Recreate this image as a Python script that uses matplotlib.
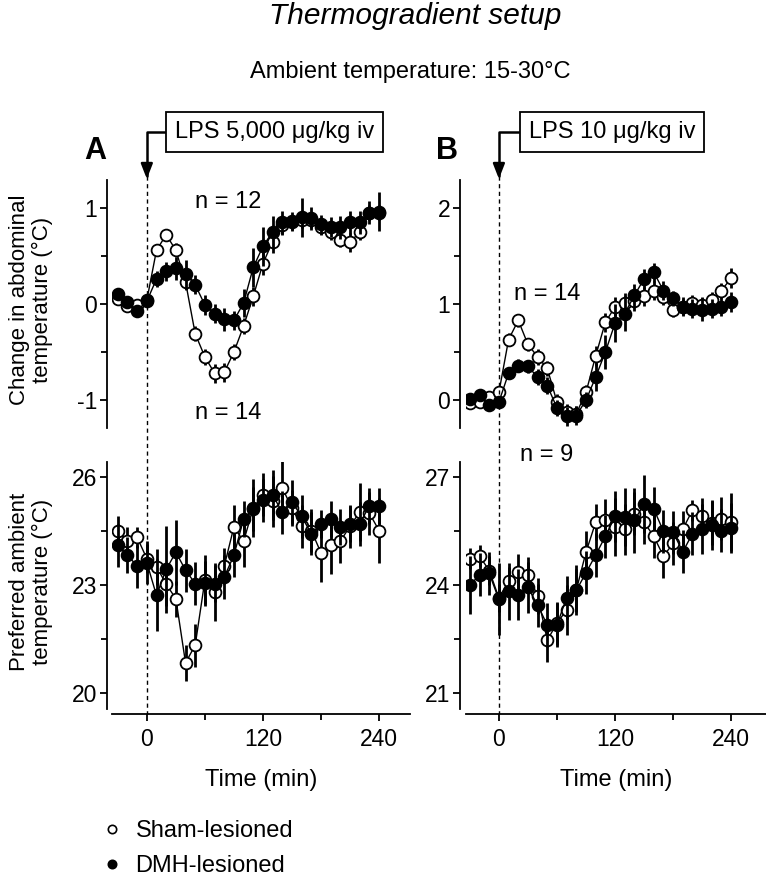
import numpy as np
import matplotlib
matplotlib.use("Agg")
import matplotlib.pyplot as plt
from matplotlib.lines import Line2D
from matplotlib import transforms

plt.rcParams["font.family"] = ["Liberation Sans", "DejaVu Sans"]
plt.rcParams["axes.unicode_minus"] = False

#######################################################
# DATA
#######################################################

time_min = [-30, -20, -10, 0, 10, 20, 30, 40, 50, 60, 70, 80, 90, 100, 110,
            120, 130, 140, 150, 160, 170, 180, 190, 200, 210, 220, 230, 240]

# A: LPS 5,000 ug/kg, change in abdominal temperature
a_tb_sham = [0.05, -0.02, -0.01, 0.04, 0.56, 0.72, 0.56, 0.23, -0.31, -0.55, -0.72, -0.71, -0.50, -0.23,
             0.08, 0.42, 0.65, 0.82, 0.85, 0.87, 0.87, 0.80, 0.75, 0.67, 0.64, 0.75, 0.95, 0.95]
a_tb_sham_err = [0.04, 0.04, 0.04, 0.05, 0.06, 0.06, 0.07, 0.08, 0.08, 0.08, 0.10, 0.10, 0.08, 0.08,
                 0.10, 0.12, 0.12, 0.10, 0.08, 0.08, 0.08, 0.08, 0.08, 0.08, 0.10, 0.08, 0.08, 0.08]
a_tb_dmh = [0.10, 0.02, -0.07, 0.03, 0.26, 0.34, 0.37, 0.31, 0.20, -0.01, -0.10, -0.16, -0.17, 0.01,
            0.38, 0.60, 0.75, 0.85, 0.86, 0.90, 0.89, 0.83, 0.80, 0.80, 0.85, 0.85, 0.95, 0.96]
a_tb_dmh_err = [0.04, 0.04, 0.04, 0.05, 0.08, 0.10, 0.12, 0.15, 0.10, 0.10, 0.10, 0.12, 0.10, 0.15,
                0.20, 0.20, 0.17, 0.12, 0.10, 0.20, 0.12, 0.10, 0.10, 0.12, 0.12, 0.12, 0.12, 0.20]

# A: preferred ambient temperature
a_ta_sham = [24.52, 24.22, 24.33, 23.74, 23.52, 23.03, 22.63, 20.85, 21.34, 23.14, 22.82, 23.53, 24.62, 24.22,
             25.14, 25.51, 25.33, 25.70, 25.14, 24.64, 24.52, 23.90, 24.11, 24.22, 24.64, 25.03, 25.00, 24.52]
a_ta_sham_err = [0.4, 0.4, 0.3, 0.4, 0.5, 0.6, 0.5, 0.5, 0.6, 0.7, 0.8, 0.5, 0.6, 0.7,
                 0.8, 0.6, 0.7, 0.8, 0.5, 0.6, 0.6, 0.8, 0.8, 0.6, 0.6, 0.8, 0.6, 0.9]
a_ta_dmh = [24.11, 23.84, 23.53, 23.63, 22.72, 23.44, 23.92, 23.42, 23.05, 23.07, 23.05, 23.23, 23.83, 24.84,
            25.12, 25.36, 25.51, 25.02, 25.31, 24.91, 24.43, 24.70, 24.84, 24.62, 24.70, 24.70, 25.21, 25.21]
a_ta_dmh_err = [0.6, 0.5, 0.6, 0.6, 1.0, 1.2, 0.9, 0.6, 0.6, 0.6, 0.5, 0.6, 0.6, 0.5,
                0.6, 0.6, 0.7, 0.6, 0.6, 0.6, 0.6, 0.4, 0.5, 0.5, 0.5, 0.6, 0.5, 0.5]

# B: LPS 10 ug/kg, change in abdominal temperature
b_tb_sham = [-0.03, -0.02, 0.03, 0.08, 0.63, 0.83, 0.58, 0.45, 0.33, -0.02, -0.12, -0.14, 0.08, 0.46,
             0.81, 0.97, 1.01, 1.03, 1.08, 1.14, 1.07, 0.94, 0.97, 1.01, 0.99, 1.04, 1.14, 1.27]
b_tb_sham_err = [0.03, 0.03, 0.04, 0.04, 0.07, 0.07, 0.07, 0.08, 0.08, 0.08, 0.08, 0.08, 0.08, 0.10,
                 0.10, 0.10, 0.10, 0.10, 0.10, 0.10, 0.08, 0.08, 0.08, 0.08, 0.08, 0.08, 0.08, 0.10]
b_tb_dmh = [0.01, 0.05, -0.05, -0.02, 0.28, 0.36, 0.35, 0.24, 0.15, -0.08, -0.17, -0.16, 0.00, 0.24,
            0.50, 0.80, 0.90, 1.09, 1.26, 1.33, 1.14, 1.06, 0.97, 0.95, 0.94, 0.95, 0.97, 1.02]
b_tb_dmh_err = [0.04, 0.05, 0.04, 0.04, 0.06, 0.07, 0.07, 0.08, 0.09, 0.08, 0.10, 0.10, 0.08, 0.15,
                0.18, 0.20, 0.18, 0.12, 0.10, 0.10, 0.10, 0.08, 0.10, 0.10, 0.12, 0.10, 0.10, 0.10]

# B: preferred ambient temperature
b_ta_sham = [24.74, 24.81, 24.41, 23.65, 24.12, 24.38, 24.29, 23.71, 22.48, 22.95, 23.32, 23.87, 24.92, 25.75,
             25.80, 25.62, 25.55, 25.99, 25.75, 25.36, 24.81, 25.16, 25.56, 26.08, 25.93, 25.73, 25.85, 25.75]
b_ta_sham_err = [0.3, 0.3, 0.4, 0.4, 0.4, 0.5, 0.5, 0.5, 0.6, 0.6, 0.7, 0.7, 0.6, 0.5,
                 0.6, 0.8, 0.7, 0.6, 0.6, 0.6, 0.6, 0.6, 0.5, 0.3, 0.5, 0.6, 0.6, 0.8]
b_ta_dmh = [24.00, 24.29, 24.33, 23.61, 23.83, 23.74, 23.94, 23.45, 22.90, 22.90, 23.66, 23.86, 24.35, 24.84,
            25.36, 25.91, 25.89, 25.80, 26.25, 26.12, 25.50, 25.47, 24.93, 25.43, 25.56, 25.68, 25.52, 25.59]
b_ta_dmh_err = [0.8, 0.6, 0.6, 1.0, 0.8, 0.7, 0.7, 0.6, 0.6, 0.6, 0.6, 0.6, 0.6, 0.6,
                0.6, 0.7, 0.8, 0.9, 0.8, 0.6, 0.6, 0.6, 0.6, 0.6, 0.7, 0.7, 0.6, 0.7]

y_labels = ["Change in abdominal\ntemperature (\u00b0C)", "Preferred ambient\ntemperature (\u00b0C)"]
lps_labels = ["LPS 5,000 \u03bcg/kg iv", "LPS 10 \u03bcg/kg iv"]
group_labels = ["Sham-lesioned", "DMH-lesioned"]
n_labels = [("n = 12", "n = 14"), ("n = 14", "n = 9")]

W, H = 766, 876


def fx(px):
    return px / W


def fy(py):
    return 1 - py / H


#######################################################
# FIGURE
#######################################################

fig = plt.figure(figsize=(W / 100, H / 100), dpi=100)

cols = [
    dict(left=112, right=410, xlim=(-36, 272), spine_px=5,
         top_ylim=(-1.29, 1.29), top_ticks=[-1, 0, 1], top_minor=[-0.5, 0.5],
         bot_ylim=(19.57, 26.42), bot_ticks=[20, 23, 26], bot_minor=[21.5, 24.5],
         tb=(a_tb_sham, a_tb_sham_err, a_tb_dmh, a_tb_dmh_err),
         ta=(a_ta_sham, a_ta_sham_err, a_ta_dmh, a_ta_dmh_err),
         n_pos=[(228, 202), (228, 413)]),
    dict(left=466, right=766, xlim=(-34, 276), spine_px=6,
         top_ylim=(-0.29, 2.29), top_ticks=[0, 1, 2], top_minor=[0.5, 1.5],
         bot_ylim=(20.57, 27.42), bot_ticks=[21, 24, 27], bot_minor=[22.5, 25.5],
         tb=(b_tb_sham, b_tb_sham_err, b_tb_dmh, b_tb_dmh_err),
         ta=(b_ta_sham, b_ta_sham_err, b_ta_dmh, b_ta_dmh_err),
         n_pos=[(547, 294), (547, 455)]),
]

TOP = (180, 428)
BOT = (462, 709)
XAXIS_PX = 714
FS_TICK = 16.5


def draw_series(ax, sham, sham_err, dmh, dmh_err):
    ax.errorbar(time_min, sham, yerr=sham_err, fmt="-o", color="black", lw=1.0,
                elinewidth=2.0, capsize=0, ms=8.5, mfc="white", mec="black", mew=1.3, zorder=3)
    ax.errorbar(time_min, dmh, yerr=dmh_err, fmt="-o", color="black", lw=1.0,
                elinewidth=2.0, capsize=0, ms=8.5, mfc="black", mec="black", mew=1.3, zorder=4)


def style_y(ax, c, ylim, ticks, minor, spine_px):
    ax.set_xlim(c["xlim"])
    ax.set_ylim(ylim)
    ax.set_yticks(ticks)
    ax.set_yticks(minor, minor=True)
    ax.spines["top"].set_visible(False)
    ax.spines["right"].set_visible(False)
    ax.spines["left"].set_position(("outward", spine_px * 0.72))
    ax.spines["left"].set_linewidth(1.3)
    ax.tick_params(axis="y", which="major", length=5, width=1.3, pad=2, labelsize=FS_TICK)
    ax.tick_params(axis="y", which="minor", length=4, width=1.3)
    ax.patch.set_visible(False)


for i, c in enumerate(cols):
    left = fx(c["left"])
    width = (c["right"] - c["left"]) / W

    ax_t = fig.add_axes([left, fy(TOP[1]), width, (TOP[1] - TOP[0]) / H])
    ax_b = fig.add_axes([left, fy(BOT[1]), width, (BOT[1] - BOT[0]) / H])

    draw_series(ax_t, *c["tb"])
    draw_series(ax_b, *c["ta"])

    style_y(ax_t, c, c["top_ylim"], c["top_ticks"], c["top_minor"], c["spine_px"])
    style_y(ax_b, c, c["bot_ylim"], c["bot_ticks"], c["bot_minor"], c["spine_px"])

    ax_t.spines["bottom"].set_visible(False)
    ax_t.set_xticks([])

    ax_b.spines["bottom"].set_position(("outward", (XAXIS_PX - BOT[1]) * 0.72))
    ax_b.spines["bottom"].set_linewidth(1.3)
    ax_b.set_xticks([0, 120, 240])
    ax_b.set_xticks([60, 180], minor=True)
    ax_b.tick_params(axis="x", which="major", length=5, width=1.3, pad=5, labelsize=FS_TICK)
    ax_b.tick_params(axis="x", which="minor", length=4, width=1.3)
    ax_b.set_xlabel("Time (min)", fontsize=17, labelpad=13)

    # dashed injection line through both panels
    blend = transforms.blended_transform_factory(ax_b.transData, fig.transFigure)
    fig.add_artist(Line2D([0, 0], [fy(176), fy(XAXIS_PX)], transform=blend,
                          color="black", lw=1.0, ls=(0, (3, 2.5))))

    # LPS box with bent arrow
    box_left = c["left"] + 54
    fig.text(fx(box_left + 9), fy(132), lps_labels[i], fontsize=17, ha="left", va="center",
             bbox=dict(boxstyle="square,pad=0.38", fc="white", ec="black", lw=1.3))
    ax_b.annotate("", xy=(0, fy(179)), xycoords=blend, xytext=(fx(box_left), fy(132)),
                  textcoords="figure fraction",
                  arrowprops=dict(arrowstyle="-|>,head_length=0.9,head_width=0.35", color="black",
                                  lw=1.8, shrinkA=0, shrinkB=0,
                                  connectionstyle="angle,angleA=0,angleB=90,rad=0"))

    for txt, (px, py) in zip(n_labels[i], c["n_pos"]):
        fig.text(fx(px), fy(py), txt, fontsize=17, ha="center", va="center")

fig.text(fx(31), fy(300), y_labels[0], fontsize=16, rotation=90, ha="center", va="center",
         multialignment="center", linespacing=1.15)
fig.text(fx(31), fy(582), y_labels[1], fontsize=16, rotation=90, ha="center", va="center",
         multialignment="center", linespacing=1.15)

fig.text(fx(95), fy(151), "A", fontsize=22, fontweight="bold", ha="center", va="center")
fig.text(fx(447), fy(151), "B", fontsize=22, fontweight="bold", ha="center", va="center")

fig.text(fx(415), fy(16), "Thermogradient setup", fontsize=21.5, style="italic", ha="center", va="center")
fig.text(fx(410), fy(72), "Ambient temperature: 15-30\u00b0C", fontsize=17, ha="center", va="center")

handles = [Line2D([], [], ls="none", marker="o", ms=6, mfc="white", mec="black", mew=1.2),
           Line2D([], [], ls="none", marker="o", ms=6, mfc="black", mec="black", mew=1.2)]
fig.legend(handles, group_labels, loc="upper left", bbox_to_anchor=(fx(100), fy(820)),
           frameon=False, fontsize=17, handletextpad=0.5, labelspacing=0.55, handlelength=1.0,
           borderaxespad=0, borderpad=0)

fig.savefig("out.png", dpi=100)
